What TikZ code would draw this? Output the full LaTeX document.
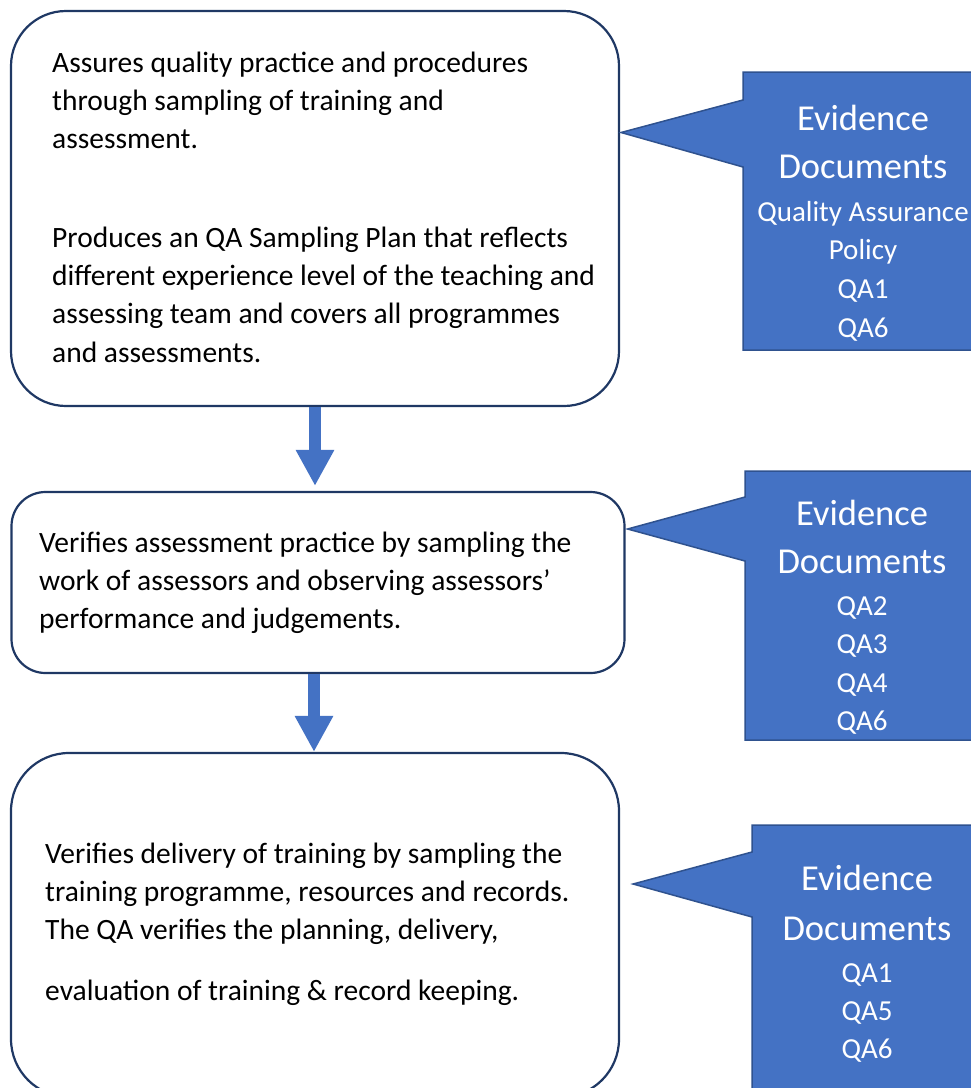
\documentclass[tikz,border=0pt]{standalone}
\usepackage{fontspec}
\setmainfont{Carlito}
\usetikzlibrary{arrows.meta,calc}
\definecolor{accent}{HTML}{4472C4}
\definecolor{accentline}{HTML}{2F528F}
\definecolor{navy}{HTML}{1F3864}
\tikzset{
  flowbox/.style={draw=navy, line width=2.2pt, fill=white, inner sep=0pt},
  bodytext/.style={anchor=base west, inner sep=0pt, font=\fontsize{29.5}{38}\selectfont, text=black},
  calloutshape/.style={fill=accent, draw=accentline, line width=1.5pt, line join=miter},
  bigtext/.style={anchor=base, inner sep=0pt, font=\fontsize{36.5}{48}\selectfont, text=white},
  smalltext/.style={anchor=base, inner sep=0pt, font=\fontsize{29}{38}\selectfont, text=white},
  flowarrow/.style={draw=accent, line width=12pt, -{Triangle[width=36pt,length=36pt]}}
}
\begin{document}
\begin{tikzpicture}[x=1pt,y=-1pt]
\clip (0,0) rectangle (971,1088);
\fill[white] (0,0) rectangle (971,1088);

% boxes
\node[flowbox, rounded corners=55pt, minimum width=608pt, minimum height=395pt] (b1) at (315,208.5) {};
\node[flowbox, rounded corners=34pt, minimum width=613pt, minimum height=181pt] (b2) at (318,582.5) {};
\node[flowbox, rounded corners=58pt, minimum width=608pt, minimum height=344pt] (b3) at (315,925) {};

% arrows
\draw[flowarrow] (b1.south) -- ($(b1.south |- b2.north)+(0,-5)$);
\draw[flowarrow] ($(b2.south)+(-4,0)$) -- ($(b2.south |- b3.north)+(-4,0)$);

% box 1 text
\node[bodytext] (t1a) at (52,72) {Assures quality practice and procedures};
\node[bodytext] (t1b) at (52,110) {through sampling of training and};
\node[bodytext] (t1c) at (52,148) {assessment.};
\node[bodytext] (t1d) at (52,247) {Produces an QA Sampling Plan that reflects};
\node[bodytext] (t1e) at (52,285) {different experience level of the teaching and};
\node[bodytext] (t1f) at (52,323) {assessing team and covers all programmes};
\node[bodytext] (t1g) at (52,362) {and assessments.};

% box 2 text
\node[bodytext] (t2a) at (39,552) {Verifies assessment practice by sampling the};
\node[bodytext] (t2b) at (39,590) {work of assessors and observing assessors’};
\node[bodytext] (t2c) at (39,628) {performance and judgements.};

% box 3 text
\node[bodytext] (t3a) at (45,863) {Verifies delivery of training by sampling the};
\node[bodytext] (t3b) at (45,901) {training programme, resources and records.};
\node[bodytext] (t3c) at (45,939) {The QA verifies the planning, delivery,};
\node[bodytext] (t3d) at (45,1000) {evaluation of training \& record keeping.};

% callout 1
\coordinate (p1) at ($(b1.east)+(1,-76)$);
\draw[calloutshape] (743,72) -- (990,72) -- (990,350) -- (743,350) -- (743,167) -- (p1) -- (743,100) -- cycle;
\node[bigtext] (c1a) at (863,130) {Evidence};
\node[bigtext] (c1b) at (863,178) {Documents};
\node[smalltext] (c1c) at (863,221) {Quality Assurance};
\node[smalltext] (c1d) at (863,259) {Policy};
\node[smalltext] (c1e) at (863,298) {QA1};
\node[smalltext] (c1f) at (863,337) {QA6};

% callout 2
\coordinate (p2) at ($(b2.east)+(2,-53.5)$);
\draw[calloutshape] (745,471) -- (990,471) -- (990,740) -- (745,740) -- (745,561) -- (p2) -- (745,497) -- cycle;
\node[bigtext] (c2a) at (862,525) {Evidence};
\node[bigtext] (c2b) at (862,573) {Documents};
\node[smalltext] (c2c) at (862,615) {QA2};
\node[smalltext] (c2d) at (862,653) {QA3};
\node[smalltext] (c2e) at (862,692) {QA4};
\node[smalltext] (c2f) at (862,730) {QA6};

% callout 3
\coordinate (p3) at ($(b3.east)+(13,-41)$);
\draw[calloutshape] (752,825) -- (990,825) -- (990,1100) -- (752,1100) -- (752,917) -- (p3) -- (752,852) -- cycle;
\node[bigtext] (c3a) at (867,890) {Evidence};
\node[bigtext] (c3b) at (867,940) {Documents};
\node[smalltext] (c3c) at (867,982) {QA1};
\node[smalltext] (c3d) at (867,1020) {QA5};
\node[smalltext] (c3e) at (867,1058) {QA6};
\end{tikzpicture}
\end{document}
